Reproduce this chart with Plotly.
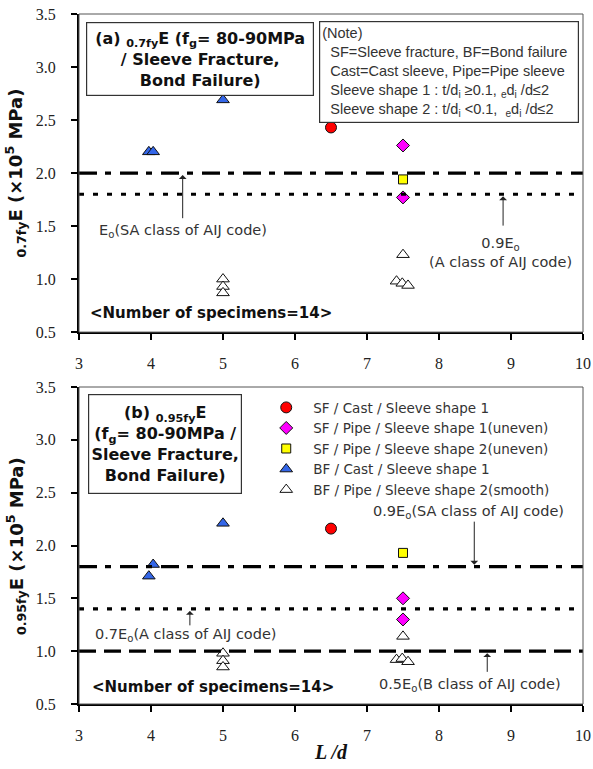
import plotly.graph_objects as go

# ---------------- data ----------------
# (a) 0.7fy E  and  (b) 0.95fy E  versus L/d, units 10^5 MPa
series_names = [
    "SF / Cast / Sleeve shape 1",
    "SF / Pipe / Sleeve shape 1(uneven)",
    "SF / Pipe / Sleeve shape 2(uneven)",
    "BF / Cast / Sleeve shape 1",
    "BF / Pipe / Sleeve shape 2(smooth)",
]

a_sf_cast_x = [6.5]
a_sf_cast_y = [2.43]
a_sf_pipe1_x = [7.5, 7.5]
a_sf_pipe1_y = [2.26, 1.77]
a_sf_pipe2_x = [7.5]
a_sf_pipe2_y = [1.94]
a_bf_cast_x = [3.97, 4.03, 5.0]
a_bf_cast_y = [2.20, 2.20, 2.69]
a_bf_pipe_x = [5.0, 5.0, 5.0, 7.5, 7.41, 7.49, 7.57]
a_bf_pipe_y = [1.00, 0.93, 0.87, 1.23, 0.98, 0.96, 0.94]

b_sf_cast_x = [6.5]
b_sf_cast_y = [2.16]
b_sf_pipe1_x = [7.5, 7.5]
b_sf_pipe1_y = [1.50, 1.30]
b_sf_pipe2_x = [7.5]
b_sf_pipe2_y = [1.93]
b_bf_cast_x = [3.97, 4.03, 5.0]
b_bf_cast_y = [1.71, 1.82, 2.21]
b_bf_pipe_x = [5.0, 5.0, 5.0, 7.5, 7.41, 7.49, 7.57]
b_bf_pipe_y = [0.98, 0.91, 0.85, 1.14, 0.92, 0.93, 0.90]

# AIJ code reference levels (10^5 MPa)
a_ref_levels = [2.0, 1.8]          # Eo (SA), 0.9Eo (A)
b_ref_levels = [1.8, 1.4, 1.0]     # 0.9Eo (SA), 0.7Eo (A), 0.5Eo (B)

x_ticks = [3, 4, 5, 6, 7, 8, 9, 10]
y_ticks = [0.5, 1.0, 1.5, 2.0, 2.5, 3.0, 3.5]

# ---------------- styling ----------------
styles = [
    dict(symbol="circle", color="#ff0000", size=11),
    dict(symbol="diamond", color="#ff00ff", size=10),
    dict(symbol="square", color="#ffff00", size=9),
    dict(symbol="triangle-up", color="#3366e8", size=11),
    dict(symbol="triangle-up", color="#ffffff", size=11),
]

SANS = "Liberation Sans"
WIDE = "DejaVu Sans"
SERIF = "Liberation Serif"
GREY = "#333333"

fig = go.Figure()

panel_a = [(a_sf_cast_x, a_sf_cast_y), (a_sf_pipe1_x, a_sf_pipe1_y),
           (a_sf_pipe2_x, a_sf_pipe2_y), (a_bf_cast_x, a_bf_cast_y),
           (a_bf_pipe_x, a_bf_pipe_y)]
panel_b = [(b_sf_cast_x, b_sf_cast_y), (b_sf_pipe1_x, b_sf_pipe1_y),
           (b_sf_pipe2_x, b_sf_pipe2_y), (b_bf_cast_x, b_bf_cast_y),
           (b_bf_pipe_x, b_bf_pipe_y)]

for (xs, ys), name, st in zip(panel_a, series_names, styles):
    fig.add_trace(go.Scatter(
        x=xs, y=ys, mode="markers", name=name, showlegend=False,
        marker=dict(symbol=st["symbol"], color=st["color"], size=st["size"],
                    line=dict(color="#111111", width=1)),
        xaxis="x", yaxis="y"))

for (xs, ys), name, st in zip(panel_b, series_names, styles):
    fig.add_trace(go.Scatter(
        x=xs, y=ys, mode="markers", name=name, showlegend=True,
        marker=dict(symbol=st["symbol"], color=st["color"], size=st["size"],
                    line=dict(color="#111111", width=1)),
        xaxis="x2", yaxis="y2"))

DASHDOT = "18px,8px,6px,9px"
DOT = "5px,9px"
DASH = "17px,8px"

shapes = []
for lvl, dash in zip(a_ref_levels, [DASHDOT, DOT]):
    shapes.append(dict(type="line", xref="x domain", yref="y", x0=0, x1=1,
                       y0=lvl, y1=lvl, line=dict(color="black", width=3.2, dash=dash)))
for lvl, dash in zip(b_ref_levels, [DASHDOT, DOT, DASH]):
    shapes.append(dict(type="line", xref="x2 domain", yref="y2", x0=0, x1=1,
                       y0=lvl, y1=lvl, line=dict(color="black", width=3.2, dash=dash)))
# thin frame around each plotting area
for xr, yr in [("x domain", "y domain"), ("x2 domain", "y2 domain")]:
    shapes.append(dict(type="rect", xref=xr, yref=yr, x0=0, x1=1, y0=0, y1=1,
                       line=dict(color="#555555", width=1)))

axis_common = dict(
    range=[3, 10], tickvals=x_ticks, ticks="outside", ticklen=6, tickwidth=1.5,
    tickcolor="black", showline=True, linecolor="black", linewidth=2,
    showgrid=False, zeroline=False, ticklabelstandoff=10,
    ticklabeloverflow="allow", automargin=False,
    tickfont=dict(family=SERIF, size=16, color="#222222"),
)
yaxis_common = dict(
    range=[0.5, 3.5], tickvals=y_ticks, tickformat=".1f", ticks="outside",
    ticklen=6, tickwidth=1.5, tickcolor="black", showline=True,
    linecolor="black", linewidth=2, showgrid=False, zeroline=False,
    ticklabelstandoff=12, ticklabeloverflow="allow", automargin=False,
    tickfont=dict(family=SERIF, size=16, color="#222222"),
)

ann = []
arrow_style = dict(showarrow=True, arrowhead=1, arrowsize=1.3, arrowwidth=1,
                   arrowcolor="#222222", text="", standoff=2)
note_font = dict(family=WIDE, size=14.5, color=GREY)

# ---- panel (a) ----
ann.append(dict(xref="x", yref="y", x=4.68, y=3.075,
                text="<b>(a) <sub>0.7fy</sub>E (f<sub>g</sub>= 80-90MPa<br>/ Sleeve Fracture,<br>Bond Failure)</b>",
                font=dict(family=WIDE, size=16, color="#111111"), showarrow=False,
                bordercolor="#333333", borderwidth=1.2, borderpad=2,
                width=222, height=68, bgcolor="white", align="center"))
ann.append(dict(xref="x", yref="y", x=8.14, y=2.953, showarrow=False, align="left",
                text="(Note)<br>"
                     "\u00a0\u00a0SF=Sleeve fracture, BF=Bond failure<br>"
                     "\u00a0\u00a0Cast=Cast sleeve, Pipe=Pipe sleeve<br>"
                     "\u00a0\u00a0Sleeve shape 1 : t/d<sub>i</sub> \u22650.1, <sub>e</sub>d<sub>i</sub> /d\u22642<br>"
                     "\u00a0\u00a0Sleeve shape 2 : t/d<sub>i</sub> &lt;0.1, \u00a0<sub>e</sub>d<sub>i</sub> /d\u22642",
                font=dict(family=SANS, size=14.5, color=GREY),
                bordercolor="#333333", borderwidth=1.2, borderpad=2,
                width=254, height=96, bgcolor="white"))
ann.append(dict(xref="x", yref="y", x=4.44, y=2.0, ax=4.44, ay=1.56,
                axref="x", ayref="y", **arrow_style))
ann.append(dict(xref="x", yref="y", x=4.44, y=1.45, showarrow=False,
                text="E<sub>o</sub>(SA class of AIJ code)", font=note_font))
ann.append(dict(xref="x", yref="y", x=8.89, y=1.8, ax=8.89, ay=1.49,
                axref="x", ayref="y", **arrow_style))
ann.append(dict(xref="x", yref="y", x=8.86, y=1.25, showarrow=False,
                text="0.9E<sub>o</sub><br>(A class of AIJ code)", font=note_font))
ann.append(dict(xref="x", yref="y", x=4.84, y=0.68, showarrow=False,
                text="<b>&lt;Number of specimens=14&gt;</b>",
                font=dict(family=WIDE, size=15, color="#111111")))

# ---- panel (b) ----
ann.append(dict(xref="x2", yref="y2", x=4.20, y=2.96, showarrow=False,
                text="<b>(b) <sub>0.95fy</sub>E<br>(f<sub>g</sub>= 80-90MPa /<br>Sleeve Fracture,<br>Bond Failure)</b>",
                font=dict(family=WIDE, size=16, color="#111111"),
                bordercolor="#333333", borderwidth=1.2, borderpad=2,
                width=148, height=94, bgcolor="white", align="center"))
ann.append(dict(xref="x2", yref="y2", x=8.49, y=1.8, ax=8.49, ay=2.24,
                axref="x2", ayref="y2", **arrow_style))
ann.append(dict(xref="x2", yref="y2", x=8.41, y=2.32, showarrow=False,
                text="0.9E<sub>o</sub>(SA class of AIJ code)", font=note_font))
ann.append(dict(xref="x2", yref="y2", x=4.54, y=1.4, ax=4.54, ay=1.23,
                axref="x2", ayref="y2", **arrow_style))
ann.append(dict(xref="x2", yref="y2", x=4.48, y=1.15, showarrow=False,
                text="0.7E<sub>o</sub>(A class of AIJ code)", font=note_font))
ann.append(dict(xref="x2", yref="y2", x=8.67, y=1.0, ax=8.67, ay=0.79,
                axref="x2", ayref="y2", **arrow_style))
ann.append(dict(xref="x2", yref="y2", x=8.43, y=0.68, showarrow=False,
                text="0.5E<sub>o</sub>(B class of AIJ code)", font=note_font))
ann.append(dict(xref="x2", yref="y2", x=4.86, y=0.665, showarrow=False,
                text="<b>&lt;Number of specimens=14&gt;</b>",
                font=dict(family=WIDE, size=15, color="#111111")))

# ---- axis titles ----
ann.append(dict(xref="paper", yref="paper", x=-0.126, y=0.7695, xanchor="center",
                yanchor="middle", textangle=-90, showarrow=False,
                text="<b><sub>0.7fy</sub>E (\u00d710<sup>5</sup> MPa)</b>",
                font=dict(family=WIDE, size=18, color="#111111")))
ann.append(dict(xref="paper", yref="paper", x=-0.126, y=0.2297, xanchor="center",
                yanchor="middle", textangle=-90, showarrow=False,
                text="<b><sub>0.95fy</sub>E (\u00d710<sup>5</sup> MPa)</b>",
                font=dict(family=WIDE, size=18, color="#111111")))
ann.append(dict(xref="paper", yref="paper", x=0.5, y=-0.0696, xanchor="center",
                yanchor="middle", showarrow=False,
                text="<b><i>L /d</i></b>",
                font=dict(family=SERIF, size=20, color="#111111")))

fig.update_layout(
    width=593, height=769,
    margin=dict(l=79, r=10, t=14, b=65, autoexpand=False),
    plot_bgcolor="white", paper_bgcolor="white",
    showlegend=True,
    legend=dict(x=0.3576, y=0.452, xanchor="left", yanchor="top",
                bgcolor="rgba(0,0,0,0)", borderwidth=0,
                font=dict(family=WIDE, size=13.5, color=GREY),
                itemwidth=44, tracegroupgap=0),
    xaxis=dict(domain=[0, 1], anchor="y", **axis_common),
    yaxis=dict(domain=[0.539, 1.0], anchor="x", **yaxis_common),
    xaxis2=dict(domain=[0, 1], anchor="y2", **axis_common),
    yaxis2=dict(domain=[0.0, 0.4594], anchor="x2", **yaxis_common),
    shapes=shapes,
    annotations=ann,
)

fig.write_html("out.html")
